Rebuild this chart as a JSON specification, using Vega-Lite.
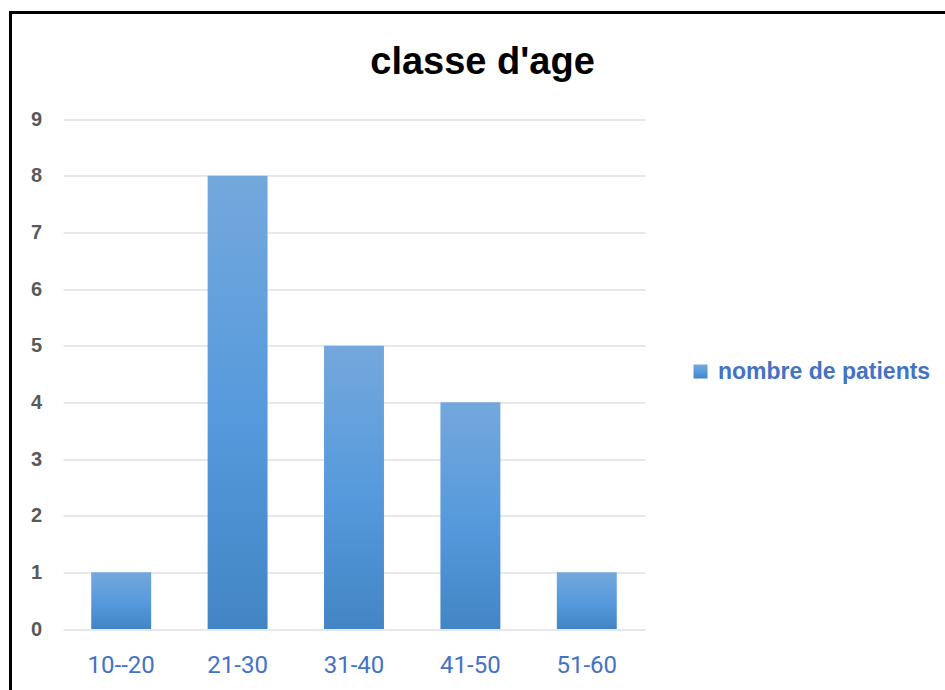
{
  "$schema": "https://vega.github.io/schema/vega-lite/v6.json",
  "autosize": {"type": "none"},
  "padding": {"left": 10.5, "top": 12.5, "right": 0, "bottom": 0},
  "width": 938,
  "height": 681,
  "background": "#ffffff",
  "title": {
    "text": "classe d'age",
    "font": "Liberation Sans",
    "fontSize": 38,
    "fontWeight": "bold",
    "color": "#000000",
    "anchor": "middle",
    "baseline": "alphabetic",
    "offset": -99.5,
    "dx": 3
  },
  "data": {
    "values": [
      {"classe": "10--20", "patients": 1, "serie": "nombre de patients"},
      {"classe": "21-30", "patients": 8, "serie": "nombre de patients"},
      {"classe": "31-40", "patients": 5, "serie": "nombre de patients"},
      {"classe": "41-50", "patients": 4, "serie": "nombre de patients"},
      {"classe": "51-60", "patients": 1, "serie": "nombre de patients"}
    ]
  },
  "mark": {
    "type": "bar",
    "strokeWidth": 0,
    "color": {
      "gradient": "linear",
      "x1": 0, "y1": 0, "x2": 0, "y2": 1,
      "stops": [
        {"offset": 0, "color": "#74a8dc"},
        {"offset": 0.55, "color": "#5599dc"},
        {"offset": 1, "color": "#4385c4"}
      ]
    }
  },
  "encoding": {
    "x": {
      "field": "classe",
      "type": "nominal",
      "sort": null,
      "scale": {"range": [52.5, 634.5], "paddingInner": 0.485, "paddingOuter": 0.2425},
      "axis": {
        "title": null,
        "labelAngle": 0,
        "domain": false,
        "ticks": false,
        "tickSize": 0,
        "grid": false,
        "offset": -21.5,
        "labelPadding": 0,
        "labelBaseline": "alphabetic",
        "labelFont": "Roboto",
        "labelFontSize": 24,
        "labelColor": "#4472C4"
      }
    },
    "y": {
      "field": "patients",
      "type": "quantitative",
      "scale": {"domain": [0, 9], "range": [616.5, 106.5], "nice": false, "zero": true},
      "axis": {
        "title": null,
        "values": [0, 1, 2, 3, 4, 5, 6, 7, 8, 9],
        "domain": false,
        "ticks": false,
        "tickSize": 0,
        "offset": -31,
        "labelPadding": 0,
        "labelFont": "Liberation Sans",
        "labelFontSize": 20,
        "labelFontWeight": "bold",
        "labelColor": "#595959",
        "grid": true,
        "gridColor": "#dde1e7",
        "gridWidth": 1.6
      }
    },
    "stroke": {
      "field": "serie",
      "type": "nominal",
      "scale": {"range": ["#5b9bd5"]},
      "legend": {
        "title": null,
        "orient": "none",
        "legendX": 678.5,
        "legendY": 347.5,
        "padding": 0,
        "symbolType": "square",
        "symbolSize": 196,
        "symbolStrokeWidth": 0,
        "symbolFillColor": "#5b9bd5",
        "labelOffset": 6,
        "labelFont": "Liberation Sans",
        "labelFontSize": 23,
        "labelFontWeight": "bold",
        "labelColor": "#4472C4",
        "labelLimit": 400,
        "encode": {
          "symbols": {
            "update": {
              "fill": {
                "value": {
                  "gradient": "linear",
                  "x1": 0, "y1": 0, "x2": 0, "y2": 1,
                  "stops": [
                    {"offset": 0, "color": "#74a8dc"},
                    {"offset": 1, "color": "#4385c4"}
                  ]
                }
              },
              "strokeWidth": {"value": 0}
            }
          }
        }
      }
    }
  },
  "config": {
    "view": {"stroke": "#000000", "strokeWidth": 3}
  }
}
